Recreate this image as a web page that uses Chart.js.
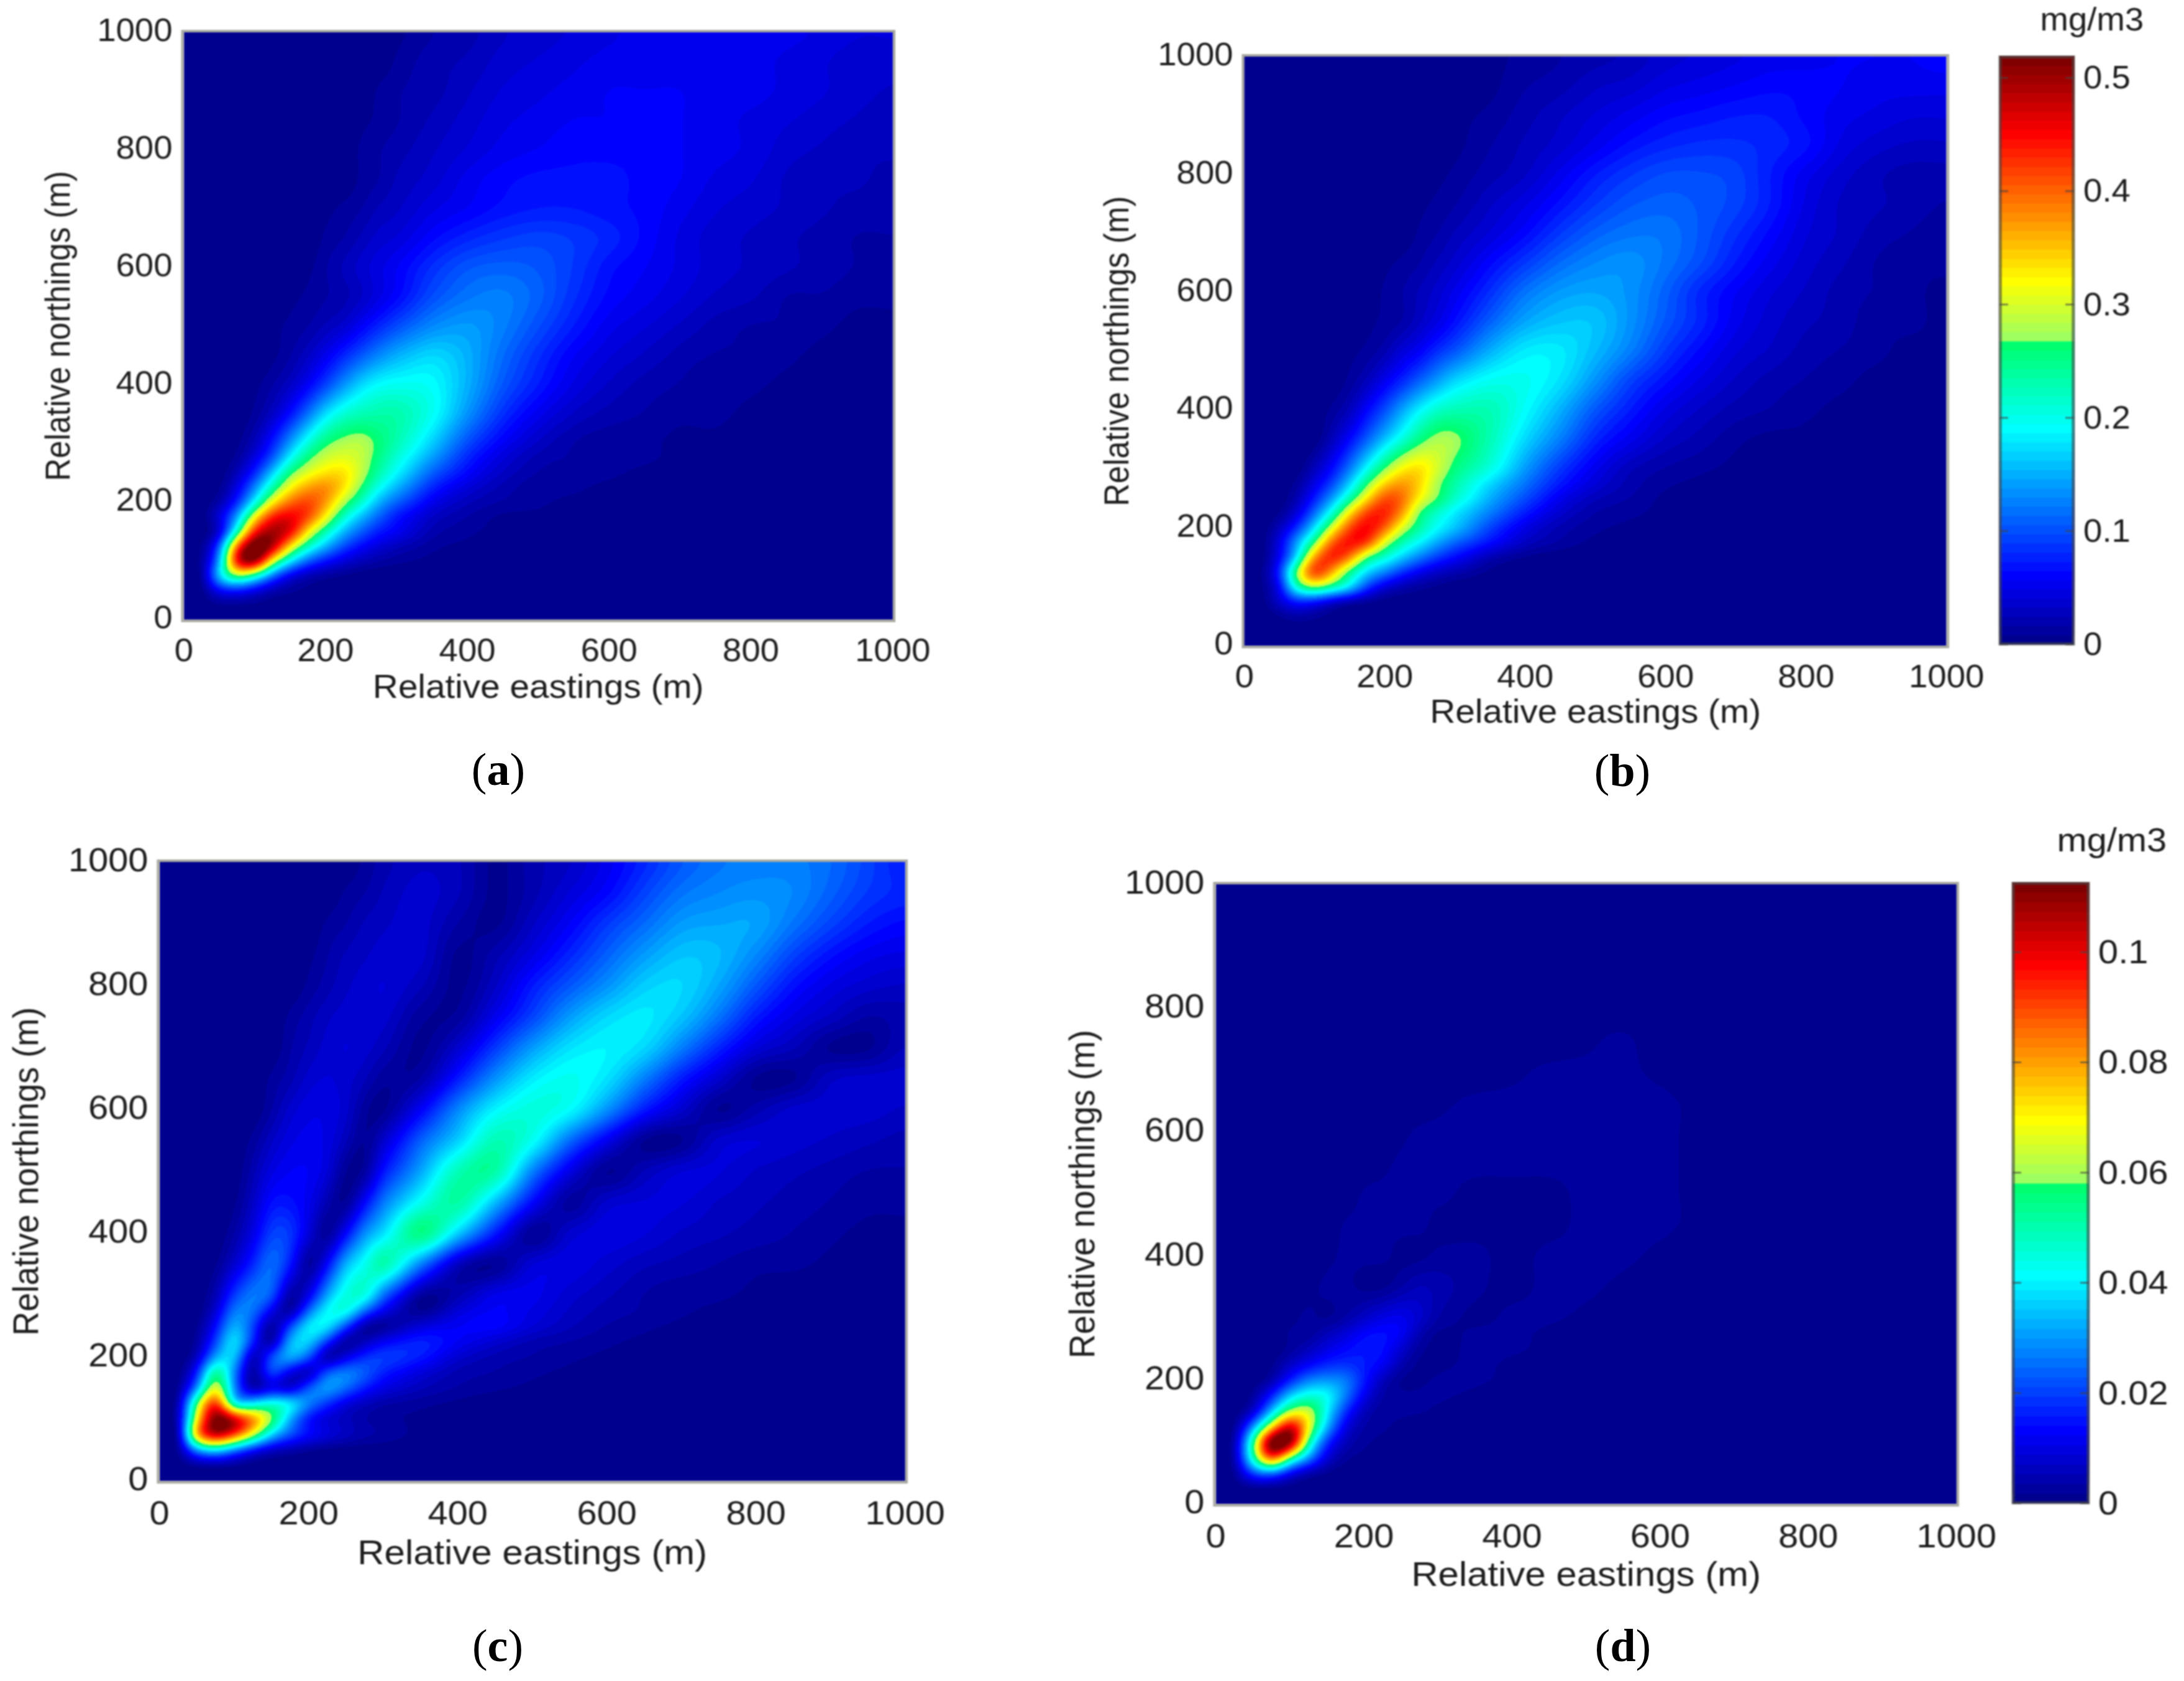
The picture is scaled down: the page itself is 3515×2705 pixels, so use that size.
<!DOCTYPE html>
<html>
<head>
<meta charset="utf-8">
<title>Concentration maps</title>
<script src="https://cdn.jsdelivr.net/npm/chart.js@4"></script>
<style>
  html, body { margin: 0; background: #fff; overflow: hidden; }
  body { position: relative; width: 3515px; height: 2705px; }
  .panel { position: absolute; transform-origin: 0 0; filter: blur(0.9px); }
  .caption { position: absolute; transform: translate(-50%, -50%); font: 74px "Liberation Serif", serif; color: #000; }
</style>
</head>
<body>
<script>
// grid nodes in metres, same for eastings and northings (finer near the source)
const gridNodes = [0, 25, 50, 75, 100, 125, 150, 175, 200, 225, 250, 275, 300, 350, 400, 450, 500, 550, 600, 650, 700, 750, 800, 850, 900, 950, 1000];
const axisTicks = [0, 200, 400, 600, 800, 1000];

// colour bar tops and ticks, mg/m3
const scaleTopAB = 0.519;
const scaleTopCD = 0.1126;
const colorbarTicksAB = [0, 0.1, 0.2, 0.3, 0.4, 0.5];
const colorbarTicksCD = [0, 0.02, 0.04, 0.06, 0.08, 0.1];

// concentrations, in % of the colour bar top.
// one row per northing node (south to north), trailing zeros left out
const concA = [
  [0],
  [0,0,1,1,1],
  [0,0,11,13,9,4,2,1],
  [0,1,34,54,42,22,9,4,2,1],
  [0,2,27,92,102,60,36,21,13,8,5,3,2,1],
  [0,1,20,78,108,96,64,43,30,19,12,8,5,2,1],
  [0,0,6,42,85,97,90,63,44,30,21,14,11,4,2,1],
  [0,0,9,28,62,85,89,81,62,42,30,21,13,6,3,1,1],
  [0,0,3,15,37,62,76,81,72,55,42,29,21,10,5,3,2,1],
  [0,0,1,9,25,45,62,71,74,65,51,38,29,15,8,4,2,2,1],
  [0,0,0,5,15,32,50,59,64,65,56,45,36,21,12,6,3,2,2,1],
  [0,0,0,2,9,20,37,50,57,59,56,48,40,27,15,8,4,3,2,2,1],
  [0,0,0,1,5,14,27,40,50,54,55,50,44,32,19,11,6,3,2,2,1,1],
  [0,0,0,0,2,6,13,23,34,41,44,45,45,38,26,16,10,6,4,3,2,2,1],
  [0,0,0,0,1,3,6,11,18,26,33,37,38,37,29,20,14,9,6,4,3,2,2,1,1,1],
  [0,0,0,0,0,1,3,6,10,15,20,25,29,33,29,22,16,11,8,6,4,3,3,2,1,1,1],
  [0,0,0,0,0,1,2,3,5,7,11,15,19,25,27,24,19,14,10,8,6,4,3,3,2,1,1],
  [0,0,0,0,0,0,1,2,3,4,6,9,12,19,23,24,21,16,12,10,8,6,5,3,3,2,2],
  [0,0,0,0,0,0,0,1,3,5,7,9,11,16,20,21,20,17,13,11,9,7,6,5,4,3,2],
  [0,0,0,0,0,0,0,0,2,3,5,7,8,12,15,17,18,17,15,12,9,7,6,5,4,3,3],
  [0,0,0,0,0,0,0,0,1,2,3,5,6,9,11,13,14,14,13,12,10,8,7,6,5,4,4],
  [0,0,0,0,0,0,0,0,0,0,2,3,5,7,10,12,13,13,13,12,11,9,8,6,5,5,4],
  [0,0,0,0,0,0,0,0,0,0,2,3,4,6,8,10,11,12,12,12,11,10,9,7,6,5,5],
  [0,0,0,0,0,0,0,0,0,0,1,2,3,5,7,9,10,11,11,12,11,10,9,8,7,6,5],
  [0,0,0,0,0,0,0,0,0,0,0,2,3,4,6,8,9,10,11,11,11,10,10,9,8,7,6],
  [0,0,0,0,0,0,0,0,0,0,0,0,2,4,5,7,8,9,10,10,10,10,10,9,8,7,7],
  [0,0,0,0,0,0,0,0,0,0,0,0,1,3,4,6,7,8,9,10,10,10,10,10,9,8,8]
];
const concB = [
  [0],
  [0],
  [0,0,1,3,2,1],
  [0,0,7,14,12,6,2,1],
  [0,1,10,43,55,47,36,18,8,4,2,1],
  [0,1,15,55,85,70,47,33,25,16,10,6,4,1],
  [0,0,10,33,72,86,76,50,41,32,24,17,12,4,1],
  [0,0,9,28,50,78,87,83,58,44,36,28,21,13,6,3,1],
  [0,0,5,16,34,58,80,88,78,58,46,37,31,18,9,4,2,1],
  [0,0,1,8,22,40,64,82,85,72,50,41,34,24,14,7,3,2,1],
  [0,0,0,4,14,27,44,64,80,77,62,52,42,29,19,10,5,3,1],
  [0,0,0,2,9,18,32,50,66,72,66,53,45,33,23,14,8,4,2,1],
  [0,0,0,0,5,12,23,37,51,62,65,58,49,40,27,17,10,5,3,2,1],
  [0,0,0,0,0,5,12,21,31,40,49,54,53,44,33,24,15,10,6,4,2,1,1],
  [0,0,0,0,0,2,5,12,19,28,36,42,44,44,37,29,20,14,9,6,4,3,2,1,1],
  [0,0,0,0,0,0,2,5,10,15,21,27,33,38,38,34,26,18,13,9,6,4,3,2,1,1],
  [0,0,0,0,0,0,1,2,4,8,11,16,20,29,35,35,30,24,17,12,8,6,4,3,2,1,1],
  [0,0,0,0,0,0,0,1,2,3,6,9,13,21,28,31,31,26,20,15,10,7,5,4,2,2,1],
  [0,0,0,0,0,0,0,0,2,3,5,7,10,16,23,27,28,26,21,15,11,8,6,4,3,2,1],
  [0,0,0,0,0,0,0,0,1,2,3,5,7,12,17,22,25,26,23,19,14,10,7,5,3,2,2],
  [0,0,0,0,0,0,0,0,0,0,2,3,5,8,12,17,21,23,23,20,16,12,8,6,4,3,2],
  [0,0,0,0,0,0,0,0,0,0,1,2,3,6,9,13,17,20,21,20,18,14,9,6,5,4,3],
  [0,0,0,0,0,0,0,0,0,0,0,1,2,4,6,10,14,17,19,19,18,14,10,7,5,4,4],
  [0,0,0,0,0,0,0,0,0,0,0,0,1,3,5,7,10,13,15,16,16,15,13,9,7,6,6],
  [0,0,0,0,0,0,0,0,0,0,0,0,1,2,4,6,8,10,12,13,14,14,12,10,9,8,8],
  [0,0,0,0,0,0,0,0,0,0,0,0,0,1,3,4,6,7,9,10,11,12,12,11,10,10,10],
  [0,0,0,0,0,0,0,0,0,0,0,0,0,1,2,3,4,5,7,8,9,10,10,11,11,11,12]
];
const concC = [
  [0],
  [0,0,1,1,1],
  [0,1,25,33,22,11,5,3,1],
  [0,2,74,96,82,58,33,20,13,9,6,4,3,1],
  [0,4,62,104,95,76,54,28,12,7,5,3,2,1],
  [0,3,52,87,34,35,42,38,25,16,8,5,3,2,1],
  [0,1,25,62,25,2,8,5,21,28,22,14,9,5,3,2,1],
  [0,0,14,50,24,1,20,8,3,21,25,21,14,8,4,3,2,1],
  [0,0,5,28,33,2,20,30,20,1,9,16,18,14,7,4,3,2,1],
  [0,0,2,18,36,15,1,30,33,16,1,5,11,15,11,7,4,3,2,1],
  [0,0,1,12,30,18,1,18,36,36,18,2,1,8,11,12,8,5,3,2,1],
  [0,0,0,7,24,23,10,1,22,37,40,22,10,1,8,11,9,6,4,3,2,1],
  [0,0,0,4,17,24,21,2,9,28,40,41,22,2,4,10,10,7,5,3,2,2,1],
  [0,0,0,1,7,15,23,14,1,12,30,38,46,24,5,1,8,9,7,5,4,3,2,2,1],
  [0,0,0,0,3,9,18,17,8,1,12,26,34,50,32,14,1,7,9,8,6,5,4,3,2,1,1],
  [0,0,0,0,1,6,13,13,10,4,1,12,24,38,46,30,12,2,7,8,8,6,5,4,3,2,2],
  [0,0,0,0,0,4,9,11,11,8,1,2,14,28,44,46,24,9,1,5,8,8,6,5,4,3,3],
  [0,0,0,0,0,2,6,9,10,9,5,1,7,21,32,44,38,22,10,1,1,7,8,7,6,5,4],
  [0,0,0,0,0,0,3,7,9,9,7,2,1,11,25,36,40,37,26,14,7,1,4,7,7,7,6],
  [0,0,0,0,0,0,2,4,7,8,7,5,2,3,14,26,35,38,34,24,14,7,1,1,6,7,7],
  [0,0,0,0,0,0,0,3,5,7,8,7,5,1,7,17,27,34,36,33,24,15,8,5,1,1,5],
  [0,0,0,0,0,0,0,2,4,6,7,7,7,2,2,10,18,27,33,35,31,23,14,9,6,3,4],
  [0,0,0,0,0,0,0,0,2,4,6,7,8,5,1,6,14,20,26,32,33,28,20,13,9,7,6],
  [0,0,0,0,0,0,0,0,1,3,5,6,7,7,1,4,9,15,21,27,31,30,25,18,13,10,9],
  [0,0,0,0,0,0,0,0,0,2,3,5,6,7,3,1,6,11,17,22,27,28,28,23,18,14,12],
  [0,0,0,0,0,0,0,0,0,0,2,3,5,7,5,1,4,8,12,18,23,25,26,25,21,17,15],
  [0,0,0,0,0,0,0,0,0,0,0,2,4,6,5,1,4,6,10,15,20,23,24,24,22,18,14]
];
const concD = [
  [0],
  [0],
  [0,1,18,22,10,3,1],
  [0,3,44,84,50,27,8,2,1],
  [0,3,47,108,104,47,16,5,2,1],
  [0,1,25,62,94,62,30,9,3,2,1],
  [0,0,6,30,54,58,36,16,5,2,2,2,1],
  [0,0,2,14,32,40,38,24,10,3,2,2,2,1],
  [0,0,0,3,14,24,26,24,14,5,1,1,2,2,1],
  [0,0,0,1,6,11,15,16,14,11,4,1,1,2,1],
  [0,0,0,0,2,5,9,12,14,13,7,2,1,2,2,1],
  [0,0,0,0,2,2,5,8,12,13,11,4,1,2,2,1],
  [0,0,0,0,1,2,1,3,6,9,10,7,3,1,2,2,1],
  [0,0,0,0,0,1,2,2,1,1,3,5,4,2,1,2,2,1],
  [0,0,0,0,0,0,1,2,2,2,1,1,2,2,1,2,2,2,1],
  [0,0,0,0,0,0,0,2,2,2,2,2,1,1,1,1,2,2,2,1],
  [0,0,0,0,0,0,0,0,2,2,2,2,2,1,1,1,2,2,2,1],
  [0,0,0,0,0,0,0,0,0,1,2,2,2,2,2,2,2,2,2,1],
  [0,0,0,0,0,0,0,0,0,0,1,2,2,2,2,2,2,2,2,1],
  [0,0,0,0,0,0,0,0,0,0,0,0,1,2,2,2,2,2,2,1],
  [0,0,0,0,0,0,0,0,0,0,0,0,0,0,1,2,2,2,1],
  [0,0,0,0,0,0,0,0,0,0,0,0,0,0,0,0,1,2],
  [0],
  [0],
  [0],
  [0],
  [0]
];

const textColor = '#1c1c1c';
const stretchX = 1.07; // the reference is a bit wider than tall, text included
const levels = 64;

// jet with 64 steps; the red channel of the reference stays off until just past the middle
const jetTable = [];
for (let i = 0; i < levels; i++) {
  const t = (i + 1) / levels;
  const c = (v) => Math.max(0, Math.min(1, v));
  jetTable.push([
    t < 0.516 ? 0 : Math.round(255 * c(1.5 - Math.abs(4 * t - 3))),
    Math.round(255 * c(1.5 - Math.abs(4 * t - 2))),
    Math.round(255 * c(1.5 - Math.abs(4 * t - 1))),
  ]);
}

// position of a metre value on the node list, as a fractional index
function nodeIndex(v) {
  let i = 0;
  while (i < gridNodes.length - 2 && gridNodes[i + 1] <= v) i++;
  return i + (v - gridNodes[i]) / (gridNodes[i + 1] - gridNodes[i]);
}

function cubicWeights(f) {
  return [
    0.5 * (-f + 2 * f * f - f * f * f),
    0.5 * (2 - 5 * f * f + 3 * f * f * f),
    0.5 * (f + 4 * f * f - 3 * f * f * f),
    0.5 * (-f * f + f * f * f),
  ];
}

// one box pass over the painted field, along rows or columns
function boxPass(src, w, h, radius, vertical) {
  const out = new Float32Array(src.length);
  const len = vertical ? h : w;
  const lines = vertical ? w : h;
  for (let l = 0; l < lines; l++) {
    const idx = (k) => {
      const q = Math.max(0, Math.min(len - 1, k));
      return vertical ? q * w + l : l * w + q;
    };
    let sum = 0;
    for (let k = -radius; k <= radius; k++) sum += src[idx(k)];
    for (let k = 0; k < len; k++) {
      out[idx(k)] = sum / (2 * radius + 1);
      sum += src[idx(k + radius + 1)] - src[idx(k - radius)];
    }
  }
  return out;
}

// shading interp: paints the node values between the nodes, through the chart's scales
const heatField = {
  id: 'heatField',
  beforeDatasetsDraw(chart) {
    const rows = chart.data.datasets[0].rows;
    if (!rows) return;
    const { left, top, right, bottom } = chart.chartArea;
    const w = Math.round(right - left);
    const h = Math.round(bottom - top);
    const n = gridNodes.length;
    const table = new Float32Array(n * n);
    for (let r = 0; r < n; r++) for (let c = 0; c < n; c++) table[r * n + c] = rows[r][c] || 0;
    const cols = [];
    for (let px = 0; px < w; px++) {
      const fx = nodeIndex(chart.scales.x.getValueForPixel(left + px + 0.5));
      const base = Math.floor(fx);
      cols.push({ base, wt: cubicWeights(fx - base) });
    }
    let field = new Float32Array(w * h);
    for (let py = 0; py < h; py++) {
      const fy = nodeIndex(chart.scales.y.getValueForPixel(top + py + 0.5));
      const rowBase = Math.floor(fy);
      const wy = cubicWeights(fy - rowBase);
      for (let px = 0; px < w; px++) {
        const { base, wt } = cols[px];
        let sum = 0;
        for (let a = 0; a < 4; a++) {
          const r = Math.max(0, Math.min(n - 1, rowBase - 1 + a));
          for (let b = 0; b < 4; b++) {
            const cc = Math.max(0, Math.min(n - 1, base - 1 + b));
            sum += wy[a] * wt[b] * table[r * n + cc];
          }
        }
        field[py * w + px] = sum;
      }
    }
    for (let pass = 0; pass < 2; pass++) {
      field = boxPass(field, w, h, 10, false);
      field = boxPass(field, w, h, 10, true);
    }
    const img = chart.ctx.createImageData(w, h);
    let o = 0;
    for (let k = 0; k < field.length; k++) {
      const lev = Math.max(0, Math.min(levels - 1, Math.floor(field[k] / 100 * levels)));
      const rgb = jetTable[lev];
      img.data[o++] = rgb[0];
      img.data[o++] = rgb[1];
      img.data[o++] = rgb[2];
      img.data[o++] = 255;
    }
    chart.ctx.putImageData(img, Math.round(left), Math.round(top));
  },
  afterDraw(chart) {
    const { left, top, width, height } = chart.chartArea;
    const ctx = chart.ctx;
    ctx.save();
    ctx.strokeStyle = '#a9a9a2';
    ctx.lineWidth = 4;
    ctx.strokeRect(left - 2, top - 2, width + 4, height + 4);
    ctx.restore();
  },
};

// frame and short inside ticks of the colour bars
const barFrame = {
  id: 'barFrame',
  afterDraw(chart) {
    const { left, right, top, width, height } = chart.chartArea;
    const ctx = chart.ctx;
    ctx.save();
    ctx.strokeStyle = 'rgba(70,70,70,0.62)';
    ctx.lineWidth = 5;
    ctx.strokeRect(left + 1, top + 1, width - 2, height - 2);
    ctx.lineWidth = 3;
    chart.scales.y.ticks.forEach((tick) => {
      const y = chart.scales.y.getPixelForValue(tick.value);
      ctx.beginPath();
      ctx.moveTo(left, y);
      ctx.lineTo(left + 13, y);
      ctx.moveTo(right - 13, y);
      ctx.lineTo(right, y);
      ctx.stroke();
    });
    ctx.restore();
  },
};

function addCanvas(left, top, innerW, innerH) {
  const box = document.createElement('div');
  box.className = 'panel';
  box.style.left = left + 'px';
  box.style.top = top + 'px';
  box.style.transform = `scaleX(${stretchX})`;
  const canvas = document.createElement('canvas');
  canvas.width = innerW;
  canvas.height = innerH;
  canvas.style.width = innerW + 'px';
  canvas.style.height = innerH + 'px';
  box.appendChild(canvas);
  document.body.appendChild(box);
  return canvas;
}

function setTicks(values) {
  return (scale) => {
    scale.ticks = values.map((value) => ({ value }));
  };
}

function drawMap(rows, p) {
  const fontSize = p.font;
  const lineH = fontSize * 1.2;
  const yBand = p.titleLeft / stretchX + lineH / 2;
  const xBand = p.titleBelow + p.titleX * 0.6;
  const topPad = 40;
  const plotW = p.w / stretchX;
  const innerW = Math.ceil(yBand + plotW + 70);
  const canvas = addCanvas(p.x - yBand * stretchX, p.y - topPad + 4, innerW, topPad + p.h + xBand);
  const points = [];
  rows.forEach((row, r) => gridNodes.forEach((x, c) => points.push({ x, y: gridNodes[r], v: row[c] || 0 })));
  new Chart(canvas, {
    type: 'scatter',
    data: { datasets: [{ data: points, rows, pointRadius: 0, pointHoverRadius: 0 }] },
    plugins: [heatField],
    options: {
      responsive: false,
      animation: false,
      devicePixelRatio: 1,
      layout: { padding: { top: topPad, right: innerW - yBand - plotW, bottom: 0, left: 0 } },
      plugins: { legend: { display: false }, tooltip: { enabled: false } },
      scales: {
        x: {
          type: 'linear', min: 0, max: 1000,
          grid: { display: false, drawTicks: false }, border: { display: false },
          afterBuildTicks: setTicks(axisTicks),
          afterFit: (s) => { s.height = xBand; s.paddingLeft = 0; s.paddingRight = 0; },
          ticks: { color: textColor, font: { family: 'Liberation Sans', size: fontSize }, padding: p.tickGapX, maxRotation: 0, autoSkip: false, callback: (v) => String(v) },
          title: { display: true, text: 'Relative eastings (m)', color: textColor, padding: 0, font: { family: 'Liberation Sans', size: p.titleX, lineHeight: 1.2 } },
        },
        y: {
          type: 'linear', min: 0, max: 1000,
          grid: { display: false, drawTicks: false }, border: { display: false },
          afterBuildTicks: setTicks(axisTicks),
          afterFit: (s) => { s.width = yBand; s.paddingTop = 0; s.paddingBottom = 0; },
          ticks: { color: textColor, font: { family: 'Liberation Sans', size: fontSize }, padding: 17, autoSkip: false, callback: (v) => String(v) },
          title: { display: true, text: 'Relative northings (m)', color: textColor, padding: 0, font: { family: 'Liberation Sans', size: fontSize, lineHeight: 1.2 } },
        },
      },
    },
  });
}

function drawColorbar(top, ticks, p) {
  const lineH = p.font * 1.2;
  const canvasTop = p.titleY - lineH / 2;
  const canvasLeft = p.titleX - p.halfW;
  const innerW = Math.ceil((p.halfW * 2) / stretchX);
  const padLeft = (p.x - canvasLeft) / stretchX;
  const barW = p.w / stretchX;
  const canvas = addCanvas(canvasLeft, canvasTop, innerW, p.y + p.h - canvasTop + 40);
  const datasets = jetTable.map((rgb, i) => ({
    data: [[(top * i) / levels, top]],
    backgroundColor: `rgb(${rgb[0]},${rgb[1]},${rgb[2]})`,
    borderWidth: 0,
    barPercentage: 1,
    categoryPercentage: 1,
    grouped: false,
    order: levels - i,
  }));
  new Chart(canvas, {
    type: 'bar',
    data: { labels: [''], datasets },
    plugins: [barFrame],
    options: {
      responsive: false,
      animation: false,
      devicePixelRatio: 1,
      layout: { padding: { left: padLeft, right: 0, top: 0, bottom: 40 } },
      plugins: {
        legend: { display: false },
        tooltip: { enabled: false },
        title: {
          display: true, text: 'mg/m3', color: textColor, align: 'center', fullSize: true,
          padding: { top: 0, bottom: p.y - canvasTop - lineH },
          font: { family: 'Liberation Sans', size: p.font, weight: 'normal', lineHeight: 1.2 },
        },
      },
      scales: {
        x: { display: false },
        y: {
          position: 'right', min: 0, max: top,
          grid: { display: false, drawTicks: false }, border: { display: false },
          afterBuildTicks: setTicks(ticks),
          afterFit: (s) => { s.width = innerW - padLeft - barW; s.paddingTop = 0; s.paddingBottom = 0; },
          ticks: { color: textColor, font: { family: 'Liberation Sans', size: p.font }, padding: 14, labelOffset: 3, autoSkip: false, callback: (v) => String(v) },
        },
      },
    },
  });
}

function addCaption(letter, x, y) {
  const span = document.createElement('span');
  span.className = 'caption';
  span.style.left = x + 'px';
  span.style.top = y + 'px';
  span.innerHTML = `(<b>${letter}</b>)`;
  document.body.appendChild(span);
}

window.addEventListener('DOMContentLoaded', () => {
  drawMap(concA, { x: 296, y: 48, w: 1141, h: 945, font: 51, titleX: 53, titleLeft: 199, titleBelow: 111, tickGapX: 22 });
  drawMap(concB, { x: 2003, y: 87, w: 1130, h: 948, font: 51, titleX: 53, titleLeft: 202, titleBelow: 109, tickGapX: 22 });
  drawMap(concC, { x: 257, y: 1383, w: 1200, h: 996, font: 54, titleX: 56, titleLeft: 211, titleBelow: 118, tickGapX: 22 });
  drawMap(concD, { x: 1957, y: 1419, w: 1192, h: 997, font: 54, titleX: 56, titleLeft: 211, titleBelow: 116, tickGapX: 22 });
  drawColorbar(scaleTopAB, colorbarTicksAB, { x: 3218, y: 91, w: 120, h: 946, font: 51, titleX: 3360, titleY: 35, halfW: 155 });
  drawColorbar(scaleTopCD, colorbarTicksCD, { x: 3239, y: 1420, w: 123, h: 999, font: 54, titleX: 3394, titleY: 1355, halfW: 164 });
  addCaption('a', 802, 1238);
  addCaption('b', 2611, 1240);
  addCaption('c', 801, 2648);
  addCaption('d', 2612, 2648);
});
</script>
</body>
</html>
